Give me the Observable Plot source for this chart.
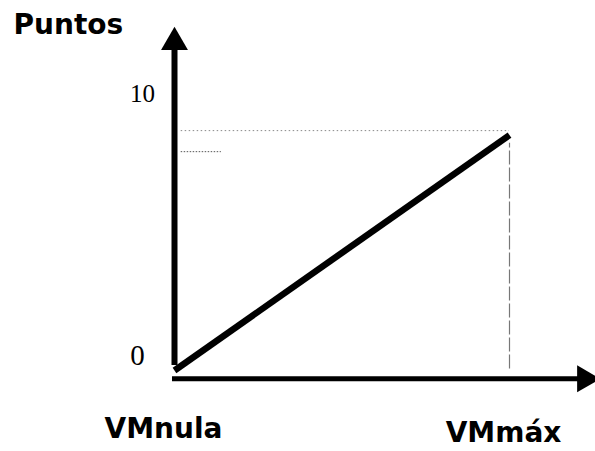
<!DOCTYPE html>
<html>
<head>
<meta charset="utf-8">
<script src="https://cdn.jsdelivr.net/npm/d3@7"></script>
<script src="https://cdn.jsdelivr.net/npm/@observablehq/plot@0.6"></script>
<style>
  html, body { margin: 0; padding: 0; background: #fff; }
</style>
</head>
<body>
<div id="chart"></div>
<script>
// ---- data ----
const xCategories = ["VMnula", "VMmáx"];      // x positions 0 and 1
const xValues = [0, 1];
const pointsValues = [0, 8.5];                 // score line: 0 at VMnula, ~8.5 at VMmáx
const yTickValues = [0, 10];
const yTickLabels = ["0", "10"];
const refTop = 8.66;                           // upper dotted reference
const refSecond = 7.9;                         // short dotted reference
const xAxisLevel = -0.3;
const yAxisTop = 11.85;
const xAxisEnd = 1.225;
const yTitle = "Puntos";

const line = xValues.map((x, i) => ({x, y: pointsValues[i]}));
const tickFont = {fontFamily: "Liberation Serif", fill: "#000", textAnchor: "middle", lineAnchor: "middle"};
const labelFont = {fontFamily: "DejaVu Sans", fontWeight: "bold", fontSize: 28, fill: "#000", textAnchor: "middle", lineAnchor: "middle"};

const plot = Plot.plot({
  width: 595,
  height: 451,
  margin: 0,
  x: {domain: [0, 1], range: [174, 509], axis: null},
  y: {domain: [0, 10], range: [370, 93], axis: null},
  marks: [
    // reference lines
    Plot.ruleY([refTop], {x1: 0.02, x2: 1.0, stroke: "#888", strokeWidth: 1, strokeDasharray: "1.5 2.5"}),
    Plot.ruleY([refSecond], {x1: 0.02, x2: 0.14, stroke: "#555", strokeWidth: 1, strokeDasharray: "1.5 1.5"}),
    Plot.ruleX([1], {y1: 0.05, y2: 8.2, stroke: "#777", strokeWidth: 1.2, strokeDasharray: "14 3"}),
    // axes
    Plot.ruleX([0], {y1: 0.18, y2: yAxisTop, stroke: "#000", strokeWidth: 6}),
    Plot.ruleY([xAxisLevel], {x1: -0.006, x2: xAxisEnd, stroke: "#000", strokeWidth: 5}),
    Plot.dot([{x: 0, y: yAxisTop}], {x: "x", y: "y", symbol: "triangle", r: 10, fill: "#000", stroke: null}),
    Plot.dot([{x: xAxisEnd, y: xAxisLevel}], {x: "x", y: "y", symbol: "triangle", r: 10, fill: "#000", stroke: null, rotate: 90}),
    // main line
    Plot.line(line, {x: "x", y: "y", stroke: "#000", strokeWidth: 6.5, strokeLinecap: "butt"}),
    // y tick labels
    Plot.text([yTickValues[1]], {x: 0, y: d => d, text: [yTickLabels[1]], dx: -32, fontSize: 25, ...tickFont}),
    Plot.text([yTickValues[0]], {x: 0, y: d => d, text: [yTickLabels[0]], dx: -37, dy: -15, fontSize: 29, ...tickFont}),
    // x labels
    Plot.text([xValues[0]], {x: d => d, y: xAxisLevel, text: [xCategories[0]], dx: -11, dy: 50, ...labelFont}),
    Plot.text([xValues[1]], {x: d => d, y: xAxisLevel, text: [xCategories[1]], dx: -6, dy: 54, ...labelFont}),
    // y title
    Plot.text([yTitle], {frameAnchor: "top-left", dx: 13, dy: 25, text: d => d,
      fontFamily: "DejaVu Sans", fontWeight: "bold", fontSize: 28, fill: "#000", textAnchor: "start", lineAnchor: "middle"})
  ]
});
document.getElementById("chart").appendChild(plot);
</script>
</body>
</html>
